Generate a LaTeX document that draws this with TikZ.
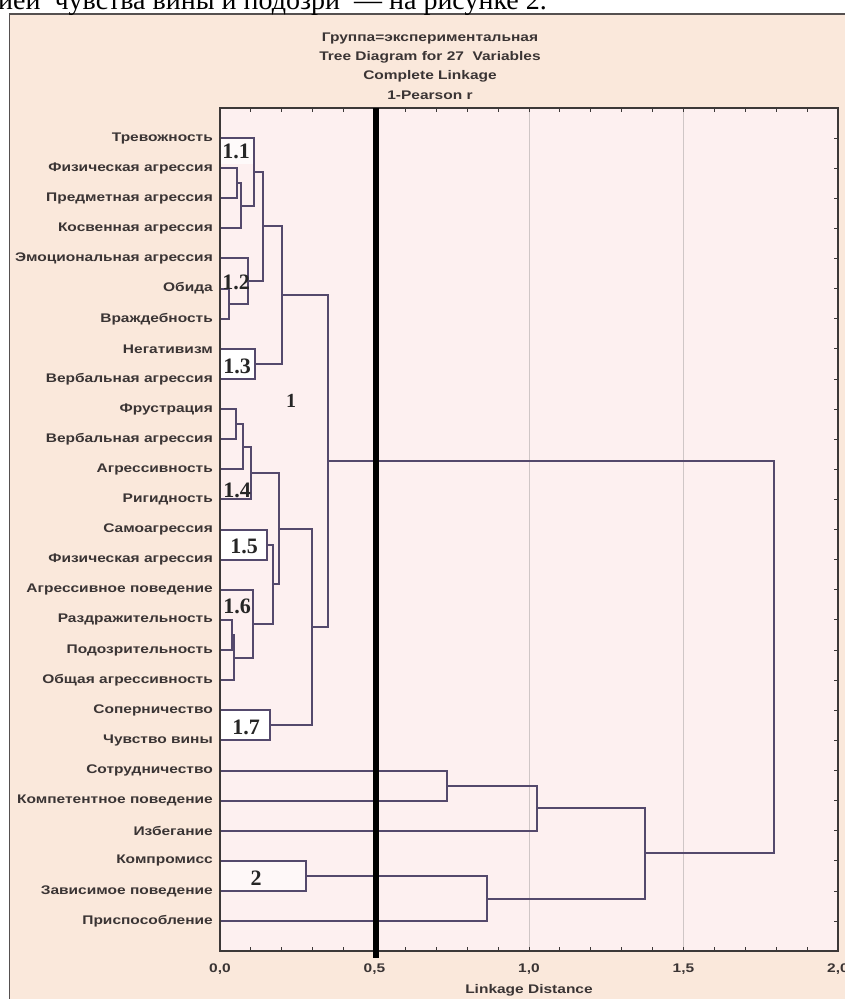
\documentclass[tikz,border=0pt]{standalone}
\usepackage{fontspec}
\setmainfont{Liberation Serif}
\setsansfont{Liberation Sans}
\usetikzlibrary{calc}
\definecolor{peach}{HTML}{FAE8DB}
\definecolor{plotbg}{HTML}{FDF0F0}
\definecolor{dline}{HTML}{54496C}
\definecolor{gridc}{HTML}{CFC6C6}
\definecolor{axc}{HTML}{3C3838}
\definecolor{txt}{HTML}{3A3434}
\definecolor{framec}{HTML}{555050}
\pgfdeclarelayer{back}
\pgfsetlayers{back,main}
\newcommand\stx[1]{\scalebox{1.24}[1]{#1}}
\newcommand\djoin[4]{%
  \coordinate (#1-m) at ($(#3)!0.5!(#4)$);
  \coordinate (#1-x) at (#2,0);
  \coordinate (#1) at (#1-x |- #1-m);
  \draw[link] (#3) -| (#1) |- (#4);
}
\begin{document}
\begin{tikzpicture}[x=1pt,y=-1pt,
  lab/.style={anchor=east, inner sep=0pt, font=\sffamily\bfseries\fontsize{12.5}{12.5}\selectfont, text=txt},
  ttl/.style={inner sep=0pt, font=\sffamily\bfseries\fontsize{12.5}{12.5}\selectfont, text=txt},
  clab/.style={inner sep=0pt, font=\rmfamily\bfseries\fontsize{22}{22}\selectfont, text=black!85},
  link/.style={draw=dline, line width=2pt, line join=miter, line cap=rect},
  tick/.style={draw=axc, line width=0.9pt},
]
\useasboundingbox (0,0) rectangle (845,999);
\clip (0,0) rectangle (845,999);
\begin{pgfonlayer}{back}
  \fill[white] (0,0) rectangle (845,999);
  \fill[peach] (9.5,14) rectangle (860,1010);
  \draw[framec, line width=1.2pt] (9.5,1010) -- (9.5,14) -- (860,14);
  \fill[plotbg] (220,108) rectangle (838,951);
  \draw[gridc, line width=0.9pt] (529,108) -- (529,951);
  \draw[gridc, line width=0.9pt] (683.5,108) -- (683.5,951);
\end{pgfonlayer}
\node[anchor=base west, inner sep=0pt, font=\rmfamily\fontsize{28}{28}\selectfont] (toptext) at (-2,9) {ией\ \ чувства вины и подозри\ \ — на рисунке 2.};
% titles
\node[ttl] (t1) at (430,38) {\stx{Группа=экспериментальная}};
\node[ttl] (t2) at (430,57) {\stx{Tree Diagram for 27\ \ Variables}};
\node[ttl] (t3) at (430,76) {\stx{Complete Linkage}};
\node[ttl] (t4) at (430,95) {\stx{1-Pearson r}};
% leaves
\foreach \t [count=\i] in {Тревожность, Физическая агрессия, Предметная агрессия, Косвенная агрессия, Эмоциональная агрессия, Обида, Враждебность, Негативизм, Вербальная агрессия, Фрустрация, Вербальная агрессия, Агрессивность, Ригидность, Самоагрессия, Физическая агрессия, Агрессивное поведение, Раздражительность, Подозрительность, Общая агрессивность, Соперничество, Чувство вины, Сотрудничество, Компетентное поведение, Избегание, Компромисс, Зависимое поведение, Приспособление}{
  \node[lab] (n\i) at (213,{138+30.12*(\i-1)}) {\stx{\t}};
  \coordinate (l\i) at (220,{138+30.12*(\i-1)});
  \draw[tick] (838,{138+30.12*(\i-1)}) -- ++(-4,0);
}
% dendrogram
\djoin{jA}{237}{l2}{l3}
\djoin{jB}{241}{jA}{l4}
\djoin{jC}{254}{l1}{jB}
\djoin{jD}{229}{l6}{l7}
\djoin{jE}{248}{l5}{jD}
\djoin{jF}{263}{jC}{jE}
\djoin{jG}{255}{l8}{l9}
\djoin{jH}{282}{jF}{jG}
\djoin{jI}{236}{l10}{l11}
\djoin{jJ}{243}{jI}{l12}
\djoin{jK}{251}{jJ}{l13}
\djoin{jL}{267}{l14}{l15}
\djoin{jM}{232}{l17}{l18}
\djoin{jN}{234}{jM}{l19}
\djoin{jO}{253}{l16}{jN}
\djoin{jP}{273}{jL}{jO}
\djoin{jQ}{279}{jK}{jP}
\djoin{jR}{270}{l20}{l21}
\djoin{jS}{312}{jQ}{jR}
\djoin{jT}{328}{jH}{jS}
\djoin{jU}{447}{l22}{l23}
\djoin{jV}{537}{jU}{l24}
\djoin{jW}{306}{l25}{l26}
\djoin{jX}{487}{jW}{l27}
\djoin{jY}{645}{jV}{jX}
\djoin{jZ}{774}{jT}{jY}
\begin{pgfonlayer}{back}
  \fill[white] (l8) rectangle (jG |- l9);
  \fill[white] (l14) rectangle (jL |- l15);
  \fill[white] (l20) rectangle (jR |- l21);
  \fill[white!55!plotbg] (l25) rectangle (jW |- l26);
  \fill[white!70!plotbg] (l1) rectangle (jC |- 0,164);
\end{pgfonlayer}
% axes
\foreach \k in {1,...,19}{
  \draw[tick] ({220+30.9*\k},108) -- ++(0,4);
  \draw[tick] ({220+30.9*\k},951) -- ++(0,-4);
}
\draw[axc, line width=1.3pt] (220,108) rectangle (838,951);
\draw[black, line width=6.5pt] (376,108) -- (376,958);
% axis labels
\node[ttl] (x0) at (220,969) {\stx{0,0}};
\node[ttl] (x1) at (374.5,969) {\stx{0,5}};
\node[ttl] (x2) at (529,969) {\stx{1,0}};
\node[ttl] (x3) at (683.5,969) {\stx{1,5}};
\node[ttl] (x4) at (838,969) {\stx{2,0}};
\node[ttl] (xl) at (529,990) {\stx{Linkage Distance}};
% cluster labels
\node[clab] (c11) at (236,151) {1.1};
\node[clab] (c12) at (236,282) {1.2};
\node[clab] (c13) at (237,366) {1.3};
\node[clab, font=\rmfamily\bfseries\fontsize{20}{20}\selectfont] (c1) at (291,401) {1};
\node[clab] (c14) at (237,490) {1.4};
\node[clab] (c15) at (244,546) {1.5};
\node[clab] (c16) at (237,606) {1.6};
\node[clab] (c17) at (246,727) {1.7};
\node[clab] (c2) at (256,878) {2};
\end{tikzpicture}
\end{document}
